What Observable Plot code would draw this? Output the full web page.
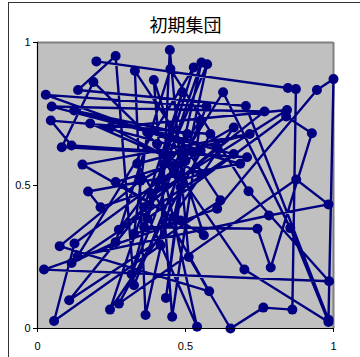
<!DOCTYPE html>
<html><head><meta charset="utf-8">
<script src="https://cdn.jsdelivr.net/npm/d3@7"></script>
<script src="https://cdn.jsdelivr.net/npm/@observablehq/plot@0.6"></script>
<style>
body{margin:0;background:#fff;}
#wrap{position:relative;width:360px;height:357px;overflow:hidden;}
#border{position:absolute;left:8px;top:2px;width:400px;height:400px;border-left:1.5px solid #333;border-top:1.5px solid #333;pointer-events:none;}
</style></head>
<body><div id="wrap"><div id="border"></div></div>
<script>
const title = "初期集団";
const xTicks = [0, 0.5, 1];
const yTicks = [0, 0.5, 1];
// tour order of the cities (x, y)
const xs = [0.199,0.846,0.873,0.861,0.763,0.652,0.511,0.447,0.416,0.056,0.125,0.551,0.028,0.571,0.326,0.264,0.137,0.704,0.983,1.000,0.944,0.607,0.022,0.985,0.713,0.449,0.264,0.115,0.663,0.048,0.767,0.360,0.539,0.404,0.189,0.082,0.708,0.115,0.045,0.584,0.275,0.874,0.983,0.782,0.135,0.528,0.360,0.743,0.788,0.927,0.840,0.371,0.554,0.365,0.329,0.618,0.107,0.461,0.627,0.854,0.983,0.699,0.438,0.178,0.685,0.171,0.213,0.551,0.247,0.843,0.388,0.573,0.461,0.152,0.717,0.337,0.580,0.075,0.348,0.663,0.245,0.489,0.318,0.506,0.124,0.607,0.275,0.551,0.455,0.393,0.562,0.264,0.500,0.434,0.483,0.371,0.326,0.483];
const ys = [0.934,0.841,0.837,0.066,0.073,0.000,0.250,0.974,0.291,0.026,0.297,0.622,0.817,0.776,0.151,0.953,0.834,0.778,0.031,0.872,0.834,0.419,0.206,0.165,0.480,0.907,0.302,0.229,0.610,0.776,0.759,0.424,0.006,0.645,0.862,0.634,0.599,0.640,0.727,0.680,0.087,0.521,0.434,0.395,0.252,0.913,0.355,0.349,0.213,0.683,0.741,0.384,0.930,0.047,0.901,0.448,0.099,0.552,0.826,0.351,0.023,0.206,0.599,0.717,0.576,0.479,0.424,0.541,0.703,0.764,0.465,0.924,0.390,0.573,0.680,0.576,0.130,0.288,0.517,0.703,0.066,0.826,0.190,0.680,0.762,0.634,0.345,0.727,0.041,0.869,0.326,0.512,0.587,0.107,0.494,0.686,0.331,0.378];
const data = xs.map((x, i) => ({x, y: ys[i]}));
const navy = "#000080";
const chart = Plot.plot({
  width: 360, height: 357,
  marginLeft: 37, marginRight: 27, marginTop: 42, marginBottom: 29,
  style: {fontFamily: "Liberation Sans, Arial, sans-serif", fontSize: "11px", color: "#000", background: "transparent"},
  x: {domain: [0, 1]},
  y: {domain: [0, 1]},
  marks: [
    Plot.frame({fill: "#c0c0c0", stroke: null}),
    Plot.ruleY([1], {stroke: "#808080", strokeWidth: 2}),
    Plot.ruleX([1], {stroke: "#808080", strokeWidth: 2}),
    Plot.line(data, {x: "x", y: "y", stroke: navy, strokeWidth: 2.4, curve: "linear"}),
    Plot.dot(data, {x: "x", y: "y", r: 5, fill: navy, stroke: null}),
    Plot.ruleX([0], {stroke: "#000", strokeWidth: 1.2}),
    Plot.ruleY([0], {stroke: "#000", strokeWidth: 1.2}),
    Plot.axisX({ticks: xTicks, tickFormat: d => String(d), tickSize: 4, tickPadding: 10, fontSize: 11, label: null}),
    Plot.axisY({ticks: yTicks, tickFormat: d => String(d), tickSize: 4, tickPadding: 3, fontSize: 11, label: null}),
    Plot.text([title], {frameAnchor: "top", dy: -16, fontSize: 18, fontFamily: "Noto Sans CJK JP", fill: "#000", lineAnchor: "middle"})
  ]
});
document.getElementById("wrap").prepend(chart);
</script>
</body></html>
